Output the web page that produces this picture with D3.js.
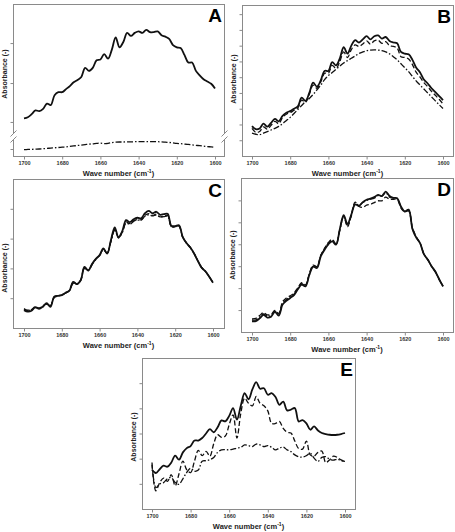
<!DOCTYPE html>
<html>
<head>
<meta charset="utf-8">
<script src="https://cdn.jsdelivr.net/npm/d3@7"></script>
<style>
body{margin:0;background:#fff;}
svg{display:block;font-family:"Liberation Sans",Arial,sans-serif;}
</style>
</head>
<body>
<script>
var wavenumbers = [1700,1698,1696,1694,1692,1690,1688,1686,1684,1682,
  1680,1678,1676,1674,1672,1670,1668,1666,1664,1662,
  1660,1658,1656,1654,1652,1650,1648,1646,1644,1642,
  1640,1638,1636,1634,1632,1630,1628,1626,1624,1622,
  1620,1618,1616,1614,1612,1610,1608,1606,1604,1602,1600];
var xTickValues = [1700,1680,1660,1640,1620,1600];

var aSolid = [24.8,25.5,27.5,30,29.5,31,34.5,33.5,40,42,
  42,44,46,48.5,50,52,58,56,58,63,
  63.5,67,64,70,78,71.5,75,81,79,81,
  82,81,83,81.5,81.5,82,79.5,78.5,77,73,
  71.5,71,66.5,61.5,61.5,56,53,50.5,49,47.5,44.4];
var aDashDot = [4.2,4.3,4.4,4.5,4.6,4.8,5.0,5.2,5.4,5.6,
  5.8,6.0,6.3,6.6,6.9,7.2,7.5,7.8,8.0,8.3,
  8.5,8.2,8.3,8.8,9.1,9.2,9.2,9.3,9.3,9.4,
  9.4,9.5,9.5,9.5,9.5,9.4,9.3,9.1,8.9,8.6,
  8.3,8.1,7.9,7.6,7.3,7.0,6.8,6.5,6.2,6.0,5.7];

var bSolid = [1.9,1.7,1.75,2.05,1.86,2.1,2.35,2.2,2.55,2.75,
  2.85,3.0,3.15,3.7,3.5,4.0,4.65,4.4,4.8,5.4,
  5.4,5.95,5.75,6.2,6.9,6.5,7.0,7.35,7.2,7.4,
  7.6,7.4,7.6,7.65,7.45,7.55,7.3,7.2,7.15,6.6,
  6.5,6.45,6.1,5.6,5.3,4.85,4.6,4.3,4.05,3.8,3.55];
var bDashed = [1.75,1.5,1.55,1.85,1.7,1.95,2.2,2.05,2.45,2.65,
  2.75,2.9,3.05,3.55,3.4,3.9,4.5,4.3,4.7,5.25,
  5.25,5.75,5.55,6.0,6.6,6.25,6.75,7.05,6.95,7.1,
  7.3,7.1,7.3,7.35,7.15,7.25,7.0,6.95,6.85,6.3,
  6.25,6.15,5.8,5.3,5.0,4.65,4.4,4.1,3.85,3.6,3.3];
var bDashDot = [1.45,1.38,1.35,1.45,1.55,1.65,1.75,1.88,2.05,2.25,
  2.45,2.7,2.95,3.2,3.45,3.65,3.9,4.2,4.5,4.85,
  5.1,5.3,5.5,5.7,5.9,6.05,6.2,6.35,6.5,6.6,
  6.68,6.72,6.73,6.72,6.68,6.6,6.48,6.3,6.1,5.85,
  5.6,5.35,5.05,4.75,4.5,4.25,4.0,3.75,3.5,3.25,3.02];

var cSolid = [0.60,0.55,0.58,0.70,0.64,0.72,0.83,0.71,1.05,1.08,
  1.10,1.18,1.25,1.55,1.47,1.60,2.05,1.93,2.15,2.32,
  2.45,2.67,2.50,2.95,3.38,3.05,3.25,3.62,3.55,3.65,
  3.70,3.68,3.85,3.93,3.85,3.90,3.80,3.82,3.83,3.43,
  3.42,3.45,3.05,2.85,2.70,2.50,2.25,2.02,1.90,1.72,1.52];
var cDashed = [0.65,0.58,0.62,0.72,0.66,0.74,0.82,0.74,1.04,1.08,
  1.11,1.18,1.26,1.53,1.47,1.61,2.03,1.93,2.14,2.31,
  2.44,2.64,2.50,2.92,3.32,3.02,3.22,3.56,3.50,3.60,
  3.64,3.63,3.78,3.84,3.78,3.82,3.73,3.76,3.78,3.40,
  3.40,3.43,3.04,2.85,2.70,2.50,2.25,2.03,1.90,1.72,1.52];
var cDashDot = [0.62,0.60,0.60,0.68,0.67,0.71,0.80,0.76,1.02,1.07,
  1.11,1.17,1.25,1.50,1.48,1.60,2.00,1.94,2.12,2.30,
  2.43,2.62,2.52,2.90,3.28,3.04,3.20,3.52,3.48,3.58,
  3.62,3.62,3.75,3.80,3.76,3.79,3.72,3.74,3.75,3.40,
  3.40,3.42,3.05,2.85,2.70,2.50,2.25,2.03,1.90,1.72,1.52];

var dSolid = [0.49,0.50,0.62,0.78,0.66,0.70,0.92,0.75,1.25,1.42,
  1.55,1.68,1.95,2.16,2.08,2.60,2.98,2.92,3.45,3.75,
  4.00,4.13,3.98,4.70,5.33,4.92,5.35,5.82,5.75,5.92,
  6.03,6.08,6.15,6.25,6.20,6.40,6.20,6.12,6.10,5.72,
  5.50,5.58,4.70,4.30,4.05,3.55,3.30,3.00,2.75,2.40,2.08];
var dDashed = [0.60,0.62,0.75,0.88,0.78,0.80,0.98,0.85,1.38,1.55,
  1.65,1.78,2.02,2.25,2.15,2.65,3.05,2.98,3.50,3.82,
  4.08,4.22,4.02,4.65,5.28,4.80,5.35,5.92,5.72,5.68,
  5.78,5.82,5.90,5.98,5.98,6.15,6.05,6.05,6.05,5.65,
  5.48,5.52,4.75,4.35,4.05,3.55,3.30,3.00,2.75,2.40,2.10];
var dDashDot = [0.55,0.55,0.68,0.82,0.72,0.75,0.95,0.80,1.30,1.48,
  1.60,1.72,1.98,2.20,2.10,2.62,3.00,2.95,3.48,3.78,
  4.05,4.18,4.00,4.68,5.25,4.85,5.30,5.85,5.78,5.90,
  6.00,6.05,6.10,6.22,6.18,6.35,6.15,6.10,6.08,5.70,
  5.48,5.55,4.72,4.32,4.05,3.55,3.30,3.00,2.75,2.40,2.08];

var eSolid = [1.56,1.43,1.58,1.72,1.68,1.85,2.12,1.96,2.25,2.42,
  2.50,2.72,2.72,2.82,3.00,3.17,3.05,3.25,3.52,3.48,
  3.70,4.01,3.55,4.10,4.60,4.36,4.75,5.04,4.78,4.80,
  4.54,4.60,4.45,4.14,4.27,3.92,3.95,4.01,3.48,3.53,
  3.40,3.15,3.28,3.12,3.02,2.98,2.95,2.94,2.95,2.98,3.02];
var eDashed = [1.76,0.72,1.05,1.23,1.10,1.36,0.92,1.40,1.90,1.56,
  1.45,1.90,2.33,2.12,2.29,2.10,2.60,2.95,2.85,2.90,
  3.35,3.74,2.82,3.80,4.40,4.20,4.10,4.47,4.20,4.10,
  3.90,3.40,3.40,3.48,3.20,3.05,3.02,2.70,2.40,2.38,
  2.70,2.15,2.10,2.25,2.30,1.85,1.95,2.10,2.05,1.95,1.89];
var eDashDot = [1.85,0.85,1.00,1.05,1.20,1.25,1.05,0.98,1.20,1.45,
  1.62,1.50,1.55,1.90,1.92,1.96,2.05,2.25,2.35,2.36,
  2.35,2.38,2.42,2.45,2.55,2.52,2.48,2.58,2.55,2.48,
  2.52,2.45,2.35,2.42,2.46,2.35,2.28,2.15,2.08,2.06,
  2.12,2.22,2.02,1.89,2.05,2.08,1.98,1.94,1.98,1.92,1.89];

// layout of the five panels (pixels)
var panels = [
  {label:"A", box:[13,4,224,156], xr:[24,215], yDomain:[0,100], yTicks:[4.6,22.4,48,74.3], titleY:74,
   brk:[134,140], series:[[aSolid,"solid"],[aDashDot,"dashdot"]]},
  {label:"B", box:[242,5,453,156], xr:[252,443], yDomain:[0,9.58], yTicks:[1,2,3,4,5,6,7,8,9], titleY:79,
   series:[[bDashDot,"dashdot"],[bDashed,"dashed"],[bSolid,"solid"]]},
  {label:"C", box:[13,179,224,328], xr:[24,213], yDomain:[0,5], yTicks:[1,2,3,4], titleY:268,
   series:[[cDashDot,"dashdot"],[cDashed,"dashed"],[cSolid,"solid"]]},
  {label:"D", box:[241,178,453,332], xr:[252,443], yDomain:[0,7.02], yTicks:[1,2,3,4,5,6], titleY:255,
   series:[[dDashDot,"dashdot"],[dDashed,"dashed"],[dSolid,"solid"]]},
  {label:"E", box:[142,358,355,509], xr:[152,345], yDomain:[0,6], yTicks:[1,2,3,4,5], titleY:437,
   series:[[eDashDot,"dashdot"],[eDashed,"dashed"],[eSolid,"solid"]]}
];

var styles = {
  solid:{w:1.8, dash:null},
  dashed:{w:1.3, dash:"5,2.5"},
  dashdot:{w:1.3, dash:"6,2,1.5,2"}
};

var svg = d3.select("body").append("svg")
  .attr("width", 455)
  .attr("height", 532);

panels.forEach(function(p){
  var x0 = p.box[0], y0 = p.box[1], x1 = p.box[2], y1 = p.box[3];

  var xScale = d3.scaleLinear().domain([1700,1600]).range(p.xr);
  var yScale = d3.scaleLinear().domain(p.yDomain).range([y1, y0]);

  var g = svg.append("g");

  var line = d3.line()
    .x(function(d, i){ return xScale(wavenumbers[i]); })
    .y(function(d){ return yScale(d); })
    .curve(d3.curveCatmullRom.alpha(0.5));

  p.series.forEach(function(s){
    var st = styles[s[1]];
    g.append("path")
      .datum(s[0])
      .attr("d", line)
      .attr("fill", "none")
      .attr("stroke", "#111")
      .attr("stroke-width", st.w)
      .attr("stroke-dasharray", st.dash)
      .attr("stroke-linejoin", "round");
  });

  // frame
  g.append("rect")
    .attr("x", x0 + 0.5).attr("y", y0 + 0.5)
    .attr("width", x1 - x0).attr("height", y1 - y0)
    .attr("fill", "none")
    .attr("stroke", "#8a8a8a")
    .attr("stroke-width", 1);

  var xAxis = d3.axisBottom(xScale)
    .tickValues(xTickValues)
    .tickSize(3)
    .tickSizeOuter(0)
    .tickFormat(d3.format("d"));

  var ax = g.append("g")
    .attr("transform", "translate(0," + (y1 + 0.5) + ")")
    .call(xAxis);
  ax.select(".domain").remove();
  ax.selectAll("line").attr("stroke", "#8a8a8a");
  ax.selectAll("text")
    .attr("y", 5)
    .attr("fill", "#333")
    .style("font-size", "5.5px")
    .style("font-weight", "bold");

  var yAxis = d3.axisLeft(yScale)
    .tickValues(p.yTicks)
    .tickSize(3)
    .tickSizeOuter(0)
    .tickFormat("");

  var ay = g.append("g")
    .attr("transform", "translate(" + (x0 + 0.5) + ",0)")
    .call(yAxis);
  ay.select(".domain").remove();
  ay.selectAll("line").attr("stroke", "#8a8a8a");

  // axis break (panel A)
  if (p.brk) {
    [x0 + 0.5, x1 + 0.5].forEach(function(bx){
      g.append("rect")
        .attr("x", bx - 2).attr("y", p.brk[0])
        .attr("width", 4).attr("height", p.brk[1] - p.brk[0])
        .attr("fill", "#fff");
      p.brk.forEach(function(by){
        g.append("line")
          .attr("x1", bx - 3).attr("y1", by + 2.5)
          .attr("x2", bx + 3).attr("y2", by - 3.5)
          .attr("stroke", "#8a8a8a")
          .attr("stroke-width", 1);
      });
    });
  }

  g.append("text")
    .attr("x", (x0 + x1) / 2)
    .attr("y", y1 + 20)
    .attr("text-anchor", "middle")
    .attr("fill", "#222")
    .style("font-size", "7.5px")
    .style("font-weight", "bold")
    .text("Wave number (cm")
    .append("tspan")
      .attr("dy", -3)
      .style("font-size", "5px")
      .text("-1")
    .select(function(){ return this.parentNode; })
    .append("tspan")
      .attr("dy", 3)
      .text(")");

  g.append("text")
    .attr("transform", "translate(" + (x0 - 6.5) + "," + p.titleY + ") rotate(-90)")
    .attr("text-anchor", "middle")
    .attr("fill", "#222")
    .style("font-size", "7px")
    .style("font-weight", "bold")
    .text("Absorbance (-)");

  g.append("text")
    .attr("x", x1 - 2)
    .attr("y", y0 + 18)
    .attr("text-anchor", "end")
    .attr("fill", "#000")
    .style("font-size", "19px")
    .style("font-weight", "bold")
    .text(p.label);
});
</script>
</body>
</html>
